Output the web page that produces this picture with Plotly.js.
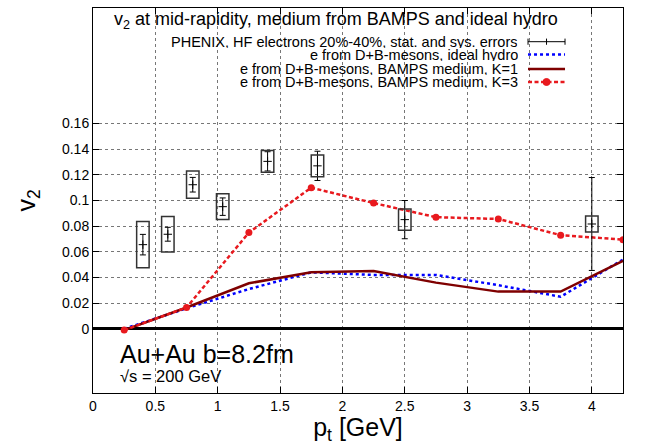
<!DOCTYPE html>
<html>
<head>
<meta charset="utf-8">
<script src="https://cdn.plot.ly/plotly-3.0.1.min.js"></script>
<style>html,body{margin:0;padding:0;background:#fff;}#chart{width:658px;height:445px;}</style>
</head>
<body>
<div id="chart"></div>
<script>
// ---- data ----
const ptModel = [0.25, 0.75, 1.25, 1.75, 2.25, 2.75, 3.25, 3.75, 4.25];
const v2Hydro = [0.000, 0.016, 0.031, 0.044, 0.042, 0.042, 0.034, 0.025, 0.054];
const v2K1    = [-0.001, 0.0166, 0.0355, 0.044, 0.045, 0.036, 0.029, 0.029, 0.053];
const v2K3    = [-0.001, 0.0166, 0.075, 0.110, 0.098, 0.087, 0.0856, 0.073, 0.0695];

const ptData  = [0.4, 0.6, 0.8, 1.04, 1.4, 1.8, 2.5, 4.0];
const v2Data  = [0.0656, 0.0737, 0.1123, 0.0952, 0.1305, 0.127, 0.0851, 0.0817];
const statErr = [0.008, 0.0054, 0.0057, 0.0068, 0.0075, 0.0114, 0.0149, 0.0362];
const sysErr  = [0.018, 0.0139, 0.0106, 0.0101, 0.0084, 0.0084, 0.0082, 0.0062];
const boxHalfWidth = 0.05;

const xTicks = [0, 0.5, 1, 1.5, 2, 2.5, 3, 3.5, 4];
const yTicks = [0, 0.02, 0.04, 0.06, 0.08, 0.1, 0.12, 0.14, 0.16];
const yTickText = ['0', '0.02', '0.04', '0.06', '0.08', '0.1', '0.12', '0.14', '0.16'];

const legendLabels = [
  'PHENIX, HF electrons 20%-40%, stat. and sys. errors',
  'e from D+B-mesons, ideal hydro',
  'e from D+B-mesons, BAMPS medium, K=1',
  'e from D+B-mesons, BAMPS medium, K=3'
];

const FONT = 'Liberation Sans, Arial, Helvetica, sans-serif';
const RED = '#e8191e', DARKRED = '#7f0000', BLUE = '#0000ff';
const RED_DASH = '4px,2.5px';

const traces = [
  {x: ptModel, y: v2Hydro, mode: 'lines', line: {color: BLUE, width: 2.5, dash: 'dot'}, name: legendLabels[1]},
  {x: ptModel, y: v2K1, mode: 'lines', line: {color: DARKRED, width: 2.5}, name: legendLabels[2]},
  {x: ptModel, y: v2K3, mode: 'lines+markers', line: {color: RED, width: 2.5, dash: RED_DASH},
   marker: {color: RED, size: 7}, name: legendLabels[3]},
  {x: ptData, y: v2Data, mode: 'markers', name: legendLabels[0],
   marker: {symbol: 'cross-thin', size: 6, color: 'black', line: {color: 'black', width: 1}},
   error_y: {type: 'data', array: statErr, visible: true, color: 'black', thickness: 1, width: 3}}
];

const shapes = [];
// systematic error boxes
for (let i = 0; i < ptData.length; i++) {
  shapes.push({type: 'rect', xref: 'x', yref: 'y',
    x0: ptData[i] - boxHalfWidth, x1: ptData[i] + boxHalfWidth,
    y0: v2Data[i] - sysErr[i], y1: v2Data[i] + sysErr[i],
    line: {color: '#333', width: 1.5}, fillcolor: 'rgba(0,0,0,0)'});
}
// manual gnuplot-style key
const keyTextX = 0.8057, keyS0 = 0.8208, keyS1 = 0.8906;
const keyY = [0.9125, 0.8792, 0.8416, 0.8078];
const annotations = [];
legendLabels.forEach((t, i) => {
  annotations.push({xref: 'paper', yref: 'paper', x: keyTextX, y: keyY[i], text: t, height: 12,
    xanchor: 'right', yanchor: 'middle', showarrow: false, font: {family: FONT, size: 14.5, color: '#000'}});
});
// PHENIX sample
shapes.push({type: 'line', xref: 'paper', yref: 'paper', x0: keyS0, x1: keyS1, y0: keyY[0], y1: keyY[0], line: {color: 'black', width: 1}});
[keyS0, (keyS0 + keyS1) / 2, keyS1].forEach(xx => {
  shapes.push({type: 'line', xref: 'paper', yref: 'paper', x0: xx, x1: xx, y0: keyY[0] - 0.008, y1: keyY[0] + 0.008, line: {color: 'black', width: 1}});
});
shapes.push({type: 'line', xref: 'paper', yref: 'paper', x0: keyS0, x1: keyS1, y0: keyY[1], y1: keyY[1], line: {color: BLUE, width: 2.5, dash: 'dot'}});
shapes.push({type: 'line', xref: 'paper', yref: 'paper', x0: keyS0, x1: keyS1, y0: keyY[2], y1: keyY[2], line: {color: DARKRED, width: 2.5}});
shapes.push({type: 'line', xref: 'paper', yref: 'paper', x0: keyS0, x1: keyS1, y0: keyY[3], y1: keyY[3], line: {color: RED, width: 2.5, dash: RED_DASH}});
const cx = (keyS0 + keyS1) / 2, rx = 0.0066, ry = 0.0091;
shapes.push({type: 'circle', xref: 'paper', yref: 'paper', x0: cx - rx, x1: cx + rx, y0: keyY[3] - ry, y1: keyY[3] + ry, line: {color: RED, width: 1}, fillcolor: RED});

annotations.push({xref: 'paper', yref: 'paper', x: 0.881, y: 0.9688, xanchor: 'right', yanchor: 'middle',
  text: 'v<sub>2</sub> at mid-rapidity, medium from BAMPS and ideal hydro', showarrow: false,
  font: {family: FONT, size: 18, color: '#000'}});
annotations.push({xref: 'paper', yref: 'paper', x: 0.048, y: 0.101, xanchor: 'left', yanchor: 'middle',
  text: 'Au+Au b=8.2fm', showarrow: false, font: {family: FONT, size: 25, color: '#000'}});
annotations.push({xref: 'paper', yref: 'paper', x: 0.048, y: 0.044, xanchor: 'left', yanchor: 'middle',
  text: '√s = 200 GeV', showarrow: false, font: {family: FONT, size: 16.5, color: '#000'}});

const layout = {
  width: 658, height: 445,
  margin: {l: 93, r: 35, t: 8, b: 52},
  paper_bgcolor: '#fff', plot_bgcolor: '#fff',
  showlegend: false,
  font: {family: FONT, color: '#000', size: 14},
  xaxis: {range: [0, 4.25], tickvals: xTicks, ticktext: xTicks.map(String),
    ticks: 'inside', ticklen: 6, tickcolor: '#000', mirror: 'ticks', showline: true, linecolor: '#000', linewidth: 1,
    showgrid: true, gridcolor: '#777', griddash: 'dot', gridwidth: 1, zeroline: false,
    tickfont: {family: FONT, size: 14}, title: {text: 'p<sub>t</sub> [GeV]', font: {family: FONT, size: 25}, standoff: 4}},
  yaxis: {range: [-0.05, 0.25], tickvals: yTicks, ticktext: yTickText,
    ticks: 'inside', ticklen: 6, tickcolor: '#000', mirror: 'ticks', showline: true, linecolor: '#000', linewidth: 1,
    showgrid: true, gridcolor: '#777', griddash: 'dot', gridwidth: 1,
    zeroline: true, zerolinecolor: '#000', zerolinewidth: 3,
    tickfont: {family: FONT, size: 14}, title: {text: 'v<sub>2</sub>', font: {family: FONT, size: 25}, standoff: 19}},
  shapes: shapes,
  annotations: annotations
};

Plotly.newPlot('chart', traces, layout, {displayModeBar: false, staticPlot: true});
</script>
</body>
</html>
